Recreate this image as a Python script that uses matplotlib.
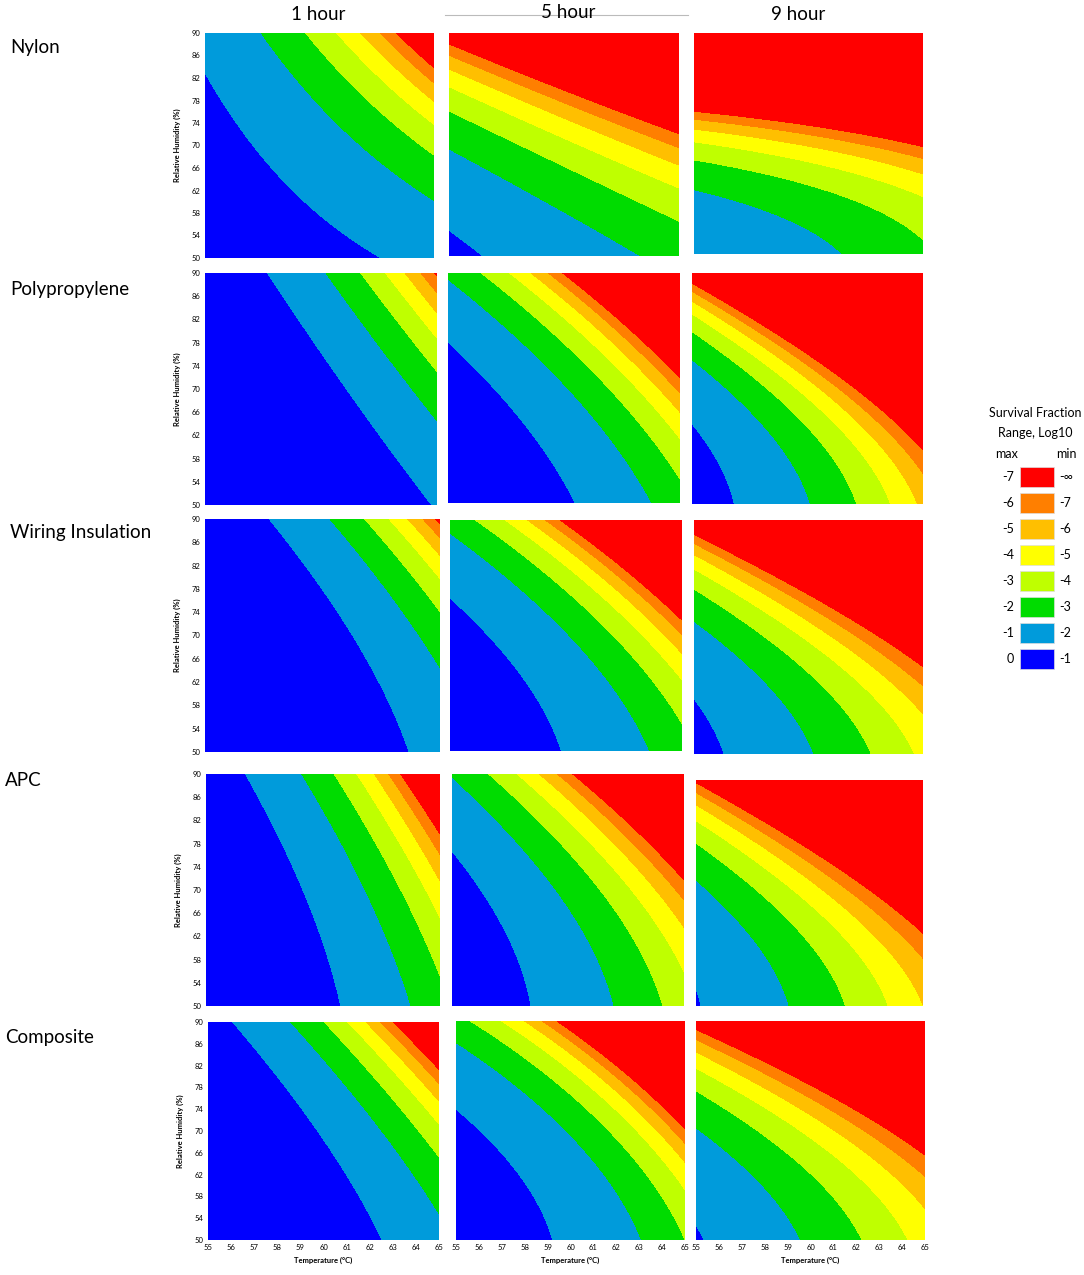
import numpy as np
import matplotlib
matplotlib.use('Agg')
import matplotlib.pyplot as plt
from matplotlib.patches import Rectangle
from matplotlib.lines import Line2D

plt.rcParams['font.family'] = ['Lato', 'DejaVu Sans']

# readings: points (temperature, RH, level) lying on the
# boundary where log10 reduction crosses -level
nylon_1h = [(55, 83.2, 1), (57.0, 70, 1), (60.0, 58, 1), (62.7, 50, 1),
            (57.5, 90, 2), (61.7, 70, 2), (65, 60.2, 2),
            (59.3, 90, 3), (62.3, 78, 3), (65, 68.2, 3),
            (60.75, 90, 4), (65, 73.7, 4),
            (61.8, 90, 5), (65, 77.9, 5),
            (62.65, 90, 6), (65, 81.2, 6),
            (63.35, 90, 7), (65, 83.8, 7)]
nylon_5h = [(55, 54.8, 1), (56.45, 50, 1),
            (55, 69.2, 2), (61.5, 54.7, 2), (63.15, 50, 2),
            (55, 76.0, 3), (60, 66.1, 3), (65, 56.2, 3),
            (55, 80.1, 4), (65, 62.5, 4),
            (55, 83.5, 5), (65, 66.5, 5),
            (55, 86.1, 6), (65, 69.5, 6),
            (55, 88.2, 7), (65, 71.6, 7)]
nylon_9h = [(55, 61.6, 2), (58.8, 58.6, 2), (61.2, 50, 2),
            (55, 66.6, 3), (59.9, 62.2, 3), (65, 52.5, 3),
            (55, 70.1, 4), (65, 60.4, 4),
            (55, 72.5, 5), (65, 64.4, 5),
            (55, 74.6, 6), (65, 67.4, 6),
            (55, 76.1, 7), (60, 72.9, 7), (65, 69.6, 7)]

pp_1h = [(57.7, 90, 1), (61.1, 70, 1), (64.75, 50, 1),
         (60.2, 90, 2), (65, 64.9, 2),
         (61.7, 90, 3), (65, 72.9, 3),
         (62.75, 90, 4), (65, 78.6, 4),
         (63.7, 90, 5), (65, 83.0, 5),
         (64.35, 90, 6), (65, 86.6, 6),
         (64.85, 90, 7), (65, 89.5, 7)]
pp_5h = [(55, 77.9, 1), (58.0, 64.8, 1), (59.7, 56.7, 1), (60.5, 50, 1),
         (55, 89.0, 2), (60.5, 68.3, 2), (63.65, 50, 2),
         (56.4, 90, 3), (65, 54.7, 3),
         (57.7, 90, 4), (65, 61.0, 4),
         (58.65, 90, 5), (65, 66.3, 5),
         (59.3, 90, 6), (65, 69.2, 6),
         (59.9, 90, 7), (65, 71.5, 7)]
pp_9h = [(55, 63.2, 1), (56.9, 50, 1),
         (55, 74.2, 2), (58.9, 62.5, 2), (60.2, 50, 2),
         (55, 79.7, 3), (62.05, 50, 3),
         (55, 83.1, 4), (63.4, 50, 4),
         (55, 85.8, 5), (64.5, 50, 5),
         (55, 87.0, 6), (65, 56.8, 6),
         (55, 88.0, 7), (59.9, 75.0, 7), (65, 60.0, 7)]

wiring_1h = [(57.75, 90, 1), (61.25, 70, 1), (63.0, 58, 1), (63.6, 50, 1),
             (60.3, 90, 2), (65, 65.0, 2),
             (61.75, 90, 3), (65, 73.8, 3),
             (62.85, 90, 4), (65, 79.5, 4),
             (63.7, 90, 5), (65, 83.8, 5),
             (64.3, 90, 6), (65, 86.7, 6),
             (64.8, 90, 7), (65, 89.3, 7)]
wiring_5h = [(55, 76.7, 1), (57.9, 63.0, 1), (59.3, 56.1, 1), (59.85, 50, 1),
             (55, 87.6, 2), (60.5, 68.7, 2), (63.45, 50, 2),
             (56.1, 90, 3), (65, 55.8, 3),
             (57.4, 90, 4), (65, 62.1, 4),
             (58.4, 90, 5), (65, 67.0, 5),
             (59.1, 90, 6), (65, 69.6, 6),
             (59.7, 90, 7), (65, 73.0, 7)]
wiring_9h = [(55, 59.9, 1), (56.25, 50, 1),
             (55, 72.1, 2), (58.1, 63.3, 2), (60.35, 50, 2),
             (55, 77.8, 3), (62.75, 50, 3),
             (55, 81.8, 4), (64.3, 50, 4),
             (55, 84.3, 5), (65, 57.9, 5),
             (55, 86.0, 6), (65, 62.1, 6),
             (55, 87.7, 7), (59.9, 77.0, 7), (65, 64.7, 7)]

apc_1h = [(56.75, 90, 1), (58.9, 70, 1), (60.4, 58, 1), (60.8, 50, 1),
          (59.1, 90, 2), (61.9, 70, 2), (63.65, 50, 2),
          (60.45, 90, 3), (65, 55.0, 3),
          (61.45, 90, 4), (65, 65.6, 4),
          (62.2, 90, 5), (65, 71.7, 5),
          (62.8, 90, 6), (65, 76.4, 6),
          (63.3, 90, 7), (65, 79.4, 7)]
apc_5h = [(55, 76.1, 1), (57.25, 63.1, 1), (58.2, 56.2, 1), (58.5, 50, 1),
          (55, 89.4, 2), (59.6, 68.8, 2), (61.85, 50, 2),
          (56.6, 90, 3), (63.75, 50, 3),
          (57.9, 90, 4), (65, 61.1, 4),
          (58.85, 90, 5), (65, 64.8, 5),
          (59.55, 90, 6), (65, 67.6, 6),
          (60.15, 90, 7), (65, 69.6, 7)]
apc_9h = [(55, 53.7, 1), (55.1, 50, 1),
          (55, 71.9, 2), (57.6, 63.4, 2), (59.25, 50, 2),
          (55, 78.4, 3), (61.65, 50, 3),
          (55, 82.4, 4), (63.35, 50, 4),
          (55, 85.9, 5), (64.65, 50, 5),
          (55, 88.2, 6), (65, 60.2, 6),
          (55, 89.7, 7), (59.8, 77.2, 7), (65, 63.1, 7)]

comp_1h = [(56.1, 90, 1), (59.7, 70, 1), (61.65, 58, 1), (62.45, 50, 1),
           (58.55, 90, 2), (62.6, 70, 2), (65, 55.3, 2),
           (60.0, 90, 3), (65, 65.4, 3),
           (61.05, 90, 4), (65, 70.3, 4),
           (61.85, 90, 5), (65, 75.8, 5),
           (62.5, 90, 6), (65, 78.9, 6),
           (63.05, 90, 7), (65, 81.2, 7)]
comp_5h = [(55, 73.8, 1), (58.1, 60.4, 1), (59.2, 50, 1),
           (55, 86.0, 2), (59.95, 69.6, 2), (62.95, 50, 2),
           (55.7, 90, 3), (65, 51.9, 3),
           (56.9, 90, 4), (65, 58.9, 4),
           (58.0, 90, 5), (65, 63.5, 5),
           (58.75, 90, 6), (65, 67.7, 6),
           (59.45, 90, 7), (65, 70.5, 7)]
comp_9h = [(55, 70.4, 2), (58.3, 60.2, 2), (59.5, 50, 2),
           (55, 76.8, 3), (62.15, 50, 3),
           (55, 81.0, 4), (64.05, 50, 4),
           (55, 84.2, 5), (65, 57.2, 5),
           (55, 86.9, 6), (65, 61.8, 6),
           (55, 88.8, 7), (59.8, 78.3, 7), (65, 65.2, 7)]

materials = ['Nylon', 'Polypropylene', 'Wiring Insulation', 'APC', 'Composite']
times = ['1 hour', '5 hour', '9 hour']
panels = [[nylon_1h, nylon_5h, nylon_9h],
          [pp_1h, pp_5h, pp_9h],
          [wiring_1h, wiring_5h, wiring_9h],
          [apc_1h, apc_5h, apc_9h],
          [comp_1h, comp_5h, comp_9h]]

colors = ['#0000FF', '#009BDB', '#00DC00', '#BFFF00',
          '#FFFF00', '#FFBF00', '#FF7F00', '#FF0000']
max_labels = ['0', '-1', '-2', '-3', '-4', '-5', '-6', '-7']
min_labels = ['-1', '-2', '-3', '-4', '-5', '-6', '-7', '-\u221e']

yticks = [50, 54, 58, 62, 66, 70, 74, 78, 82, 86, 90]
xticks = [55, 56, 57, 58, 59, 60, 61, 62, 63, 64, 65]

# panel boxes in pixels: (left, right, top, bottom)
boxes = [[(205, 434, 33, 258), (449, 679, 33, 256), (694, 923, 33, 254)],
         [(205, 437, 273, 505), (448, 680, 273, 503), (692, 923, 273, 504)],
         [(205, 440, 519, 752), (450, 682, 520, 751), (694, 923, 520, 754)],
         [(206, 440, 774, 1006), (452, 684, 774, 1006), (696, 923, 780, 1006)],
         [(208, 439, 1022, 1240), (456, 685, 1021, 1240), (696, 925, 1021, 1240)]]
W, H = 1084, 1275


def fit_field(pts):
    p = np.array(pts, float)
    x = (p[:, 0] - 60) / 5
    y = (p[:, 1] - 70) / 20
    A = np.column_stack([np.ones_like(x), x, y, x * y, x ** 2, y ** 2])
    coef = np.linalg.lstsq(A, np.log(p[:, 2]), rcond=None)[0]
    return coef


def eval_field(coef, T, RH):
    x = (T - 60) / 5
    y = (RH - 70) / 20
    return (coef[0] + coef[1] * x + coef[2] * y + coef[3] * x * y
            + coef[4] * x ** 2 + coef[5] * y ** 2)


fig = plt.figure(figsize=(W / 100, H / 100), dpi=100)

T = np.linspace(55, 65, 300)
RH = np.linspace(50, 90, 300)
TT, RR = np.meshgrid(T, RH)
levels = [-50] + list(np.log(np.arange(1, 8))) + [50]

for i, row in enumerate(panels):
    for j, pts in enumerate(row):
        x0, x1, y0, y1 = boxes[i][j]
        ax = fig.add_axes([x0 / W, 1 - y1 / H, (x1 - x0) / W, (y1 - y0) / H])
        Z = eval_field(fit_field(pts), TT, RR)
        ax.contourf(TT, RR, Z, levels=levels, colors=colors)
        ax.set_xlim(55, 65)
        ax.set_ylim(50, 90)
        for s in ax.spines.values():
            s.set_visible(False)
        ax.tick_params(length=0, labelsize=5.5, pad=3)
        ax.set_yticks(yticks)
        ax.set_xticks(xticks)
        if j == 0:
            ax.set_ylabel('Relative Humidity (%)', fontsize=5.5,
                          fontweight='bold', labelpad=8)
        else:
            ax.set_yticklabels([])
        if i == len(panels) - 1:
            ax.set_xlabel('Temperature (\u00b0C)', fontsize=5.5,
                          fontweight='bold', labelpad=4)
        else:
            ax.set_xticklabels([])

# column titles and row labels
title_px = [(318, 15), (568, 12), (798, 15)]
for t, (px, py) in zip(times, title_px):
    fig.text(px / W, 1 - py / H, t, ha='center', va='center', fontsize=13.5)
fig.add_artist(Line2D([445 / W, 688 / W], [1 - 15 / H, 1 - 15 / H],
                      color='#BBBBBB', lw=0.8))

label_px = [(10, 47), (10, 290), (10, 533), (5, 780), (5, 1037)]
for m, (px, py) in zip(materials, label_px):
    fig.text(px / W, 1 - py / H, m, ha='left', va='center', fontsize=13.5)

# legend
lax = fig.add_axes([0, 0, 1, 1], zorder=5)
lax.set_xlim(0, W)
lax.set_ylim(H, 0)
lax.axis('off')
lax.text(1035, 413, 'Survival Fraction', ha='center', va='center', fontsize=9)
lax.text(1035, 433, 'Range, Log10', ha='center', va='center', fontsize=9)
lax.text(1007, 454, 'max', ha='center', va='center', fontsize=9)
lax.text(1066, 454, 'min', ha='center', va='center', fontsize=9)
for k, c in enumerate(colors):
    yc = 659 - 26 * k
    lax.add_patch(Rectangle((1020, yc - 10), 34, 20, facecolor=c,
                            edgecolor='#DDDDDD', lw=0.5))
    lax.text(1014, yc, max_labels[k], ha='right', va='center', fontsize=9)
    lax.text(1059, yc, min_labels[k], ha='left', va='center', fontsize=9)

fig.savefig('out.png', dpi=100, facecolor='white')
